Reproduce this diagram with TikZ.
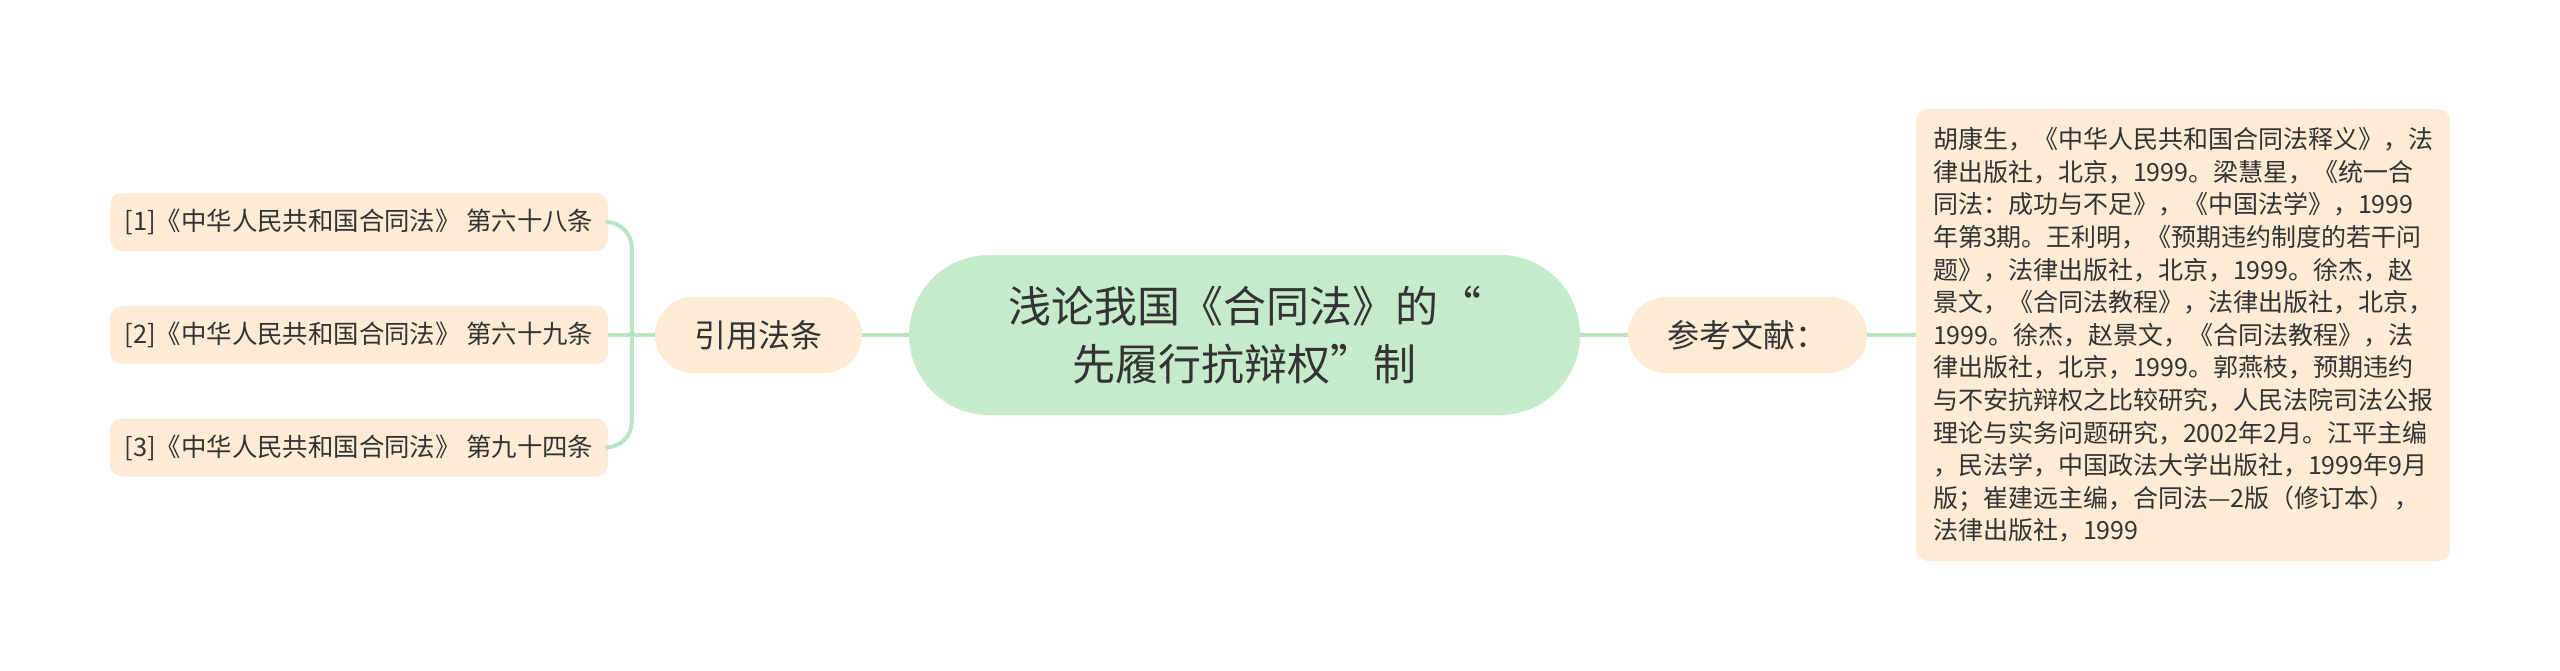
\documentclass[tikz,border=0pt]{standalone}
\usepackage{fontspec}
\setmainfont{Noto Sans CJK SC}
\usetikzlibrary{
    positioning
    }

\definecolor{rootgreen}{HTML}{C6EBCB}
\definecolor{leafpeach}{HTML}{FDEBD6}
\definecolor{linkgreen}{HTML}{B9E5C3}
\definecolor{inkgray}{HTML}{333333}

\begin{document}
\begin{tikzpicture}[x=1pt, y=-1pt]
\tikzset{root/.style =
        {
            rectangle,
            rounded corners=80pt,
            fill=rootgreen,
            text=inkgray,
            inner sep=0pt,
            minimum width=671pt,
            minimum height=160pt,
            align=center,
            font=\fontsize{43}{58}\selectfont
        }
}

\tikzset{branch/.style =
        {
            rectangle,
            rounded corners=38pt,
            fill=leafpeach,
            text=inkgray,
            inner sep=0pt,
            minimum height=76pt,
            font=\fontsize{32}{38}\selectfont
        }
}

\tikzset{lawleaf/.style =
        {
            rectangle,
            rounded corners=12pt,
            fill=leafpeach,
            text=inkgray,
            inner sep=0pt,
            minimum width=498pt,
            minimum height=58pt,
            font=\fontsize{25.4}{30}\selectfont
        }
}

\tikzset{booknote/.style =
        {
            lawleaf,
            minimum width=534pt,
            minimum height=452pt,
            align=left,
            font=\fontsize{25}{32.6}\selectfont
        }
}

\tikzset{link/.style = {
            draw=linkgreen,
            line width=4pt
        }
}
		\useasboundingbox (0,0) rectangle (2560,670);

		\node[root] (root) at (1244.5,335) {浅论我国《合同法》的“\\先履行抗辩权”制};

		\node[branch, minimum width=207pt] (cite) at (758.5,335) {引用法条};
		\node[branch, minimum width=239pt] (refs) at (1747.5,335) {参考文献：};

		\foreach \n / \y / \art in
			{1/222/第六十八条,
				2/335/第六十九条,
				3/447.5/第九十四条}
		\node[lawleaf] at (359,\y) (law-\n) {[\n]《中华人民共和国合同法》 \art};

		\node[booknote] (bib) at (2183,335) {胡康生，《中华人民共和国合同法释义》，法\\律出版社，北京，1999。梁慧星，《统一合\\同法：成功与不足》，《中国法学》，1999\\年第3期。王利明，《预期违约制度的若干问\\题》，法律出版社，北京，1999。徐杰，赵\\景文，《合同法教程》，法律出版社，北京，\\1999。徐杰，赵景文，《合同法教程》，法\\律出版社，北京，1999。郭燕枝，预期违约\\与不安抗辩权之比较研究，人民法院司法公报\\理论与实务问题研究，2002年2月。江平主编\\，民法学，中国政法大学出版社，1999年9月\\版；崔建远主编，合同法—2版（修订本），\\法律出版社，1999};

		\coordinate[left=23pt of cite.west] (hub);

		\draw [link] (root.west) -- (cite.east);
		\draw [link] (root.east) -- (refs.west);
		\draw [link] (refs.east) -- (bib.west);
		\draw [link] (cite.west) -- (law-2.east);
		\draw [link, rounded corners=26pt] (law-1.east) -| (hub) |- (law-3.east);

	\end{tikzpicture}
\end{document}
